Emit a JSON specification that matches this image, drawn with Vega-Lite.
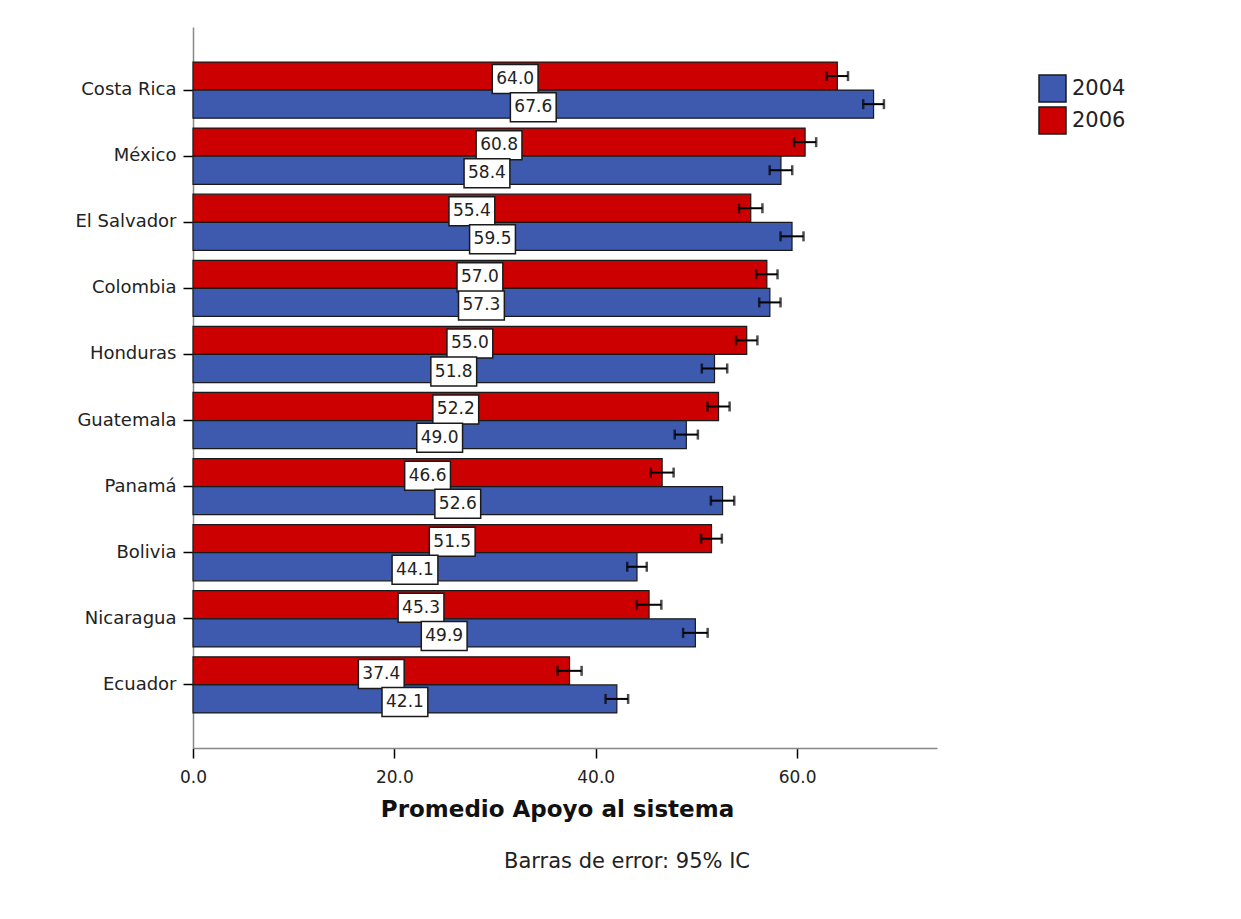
{
  "$schema": "https://vega.github.io/schema/vega-lite/v6.json",
  "autosize": "none",
  "width": 744,
  "height": 721,
  "padding": {"left": 193, "top": 27, "right": 304, "bottom": 171},
  "background": "white",
  "config": {
    "font": "DejaVu Sans",
    "view": {"stroke": null},
    "axis": {"labelFont": "DejaVu Sans", "titleFont": "DejaVu Sans", "labelColor": "#222", "titleColor": "#111"}
  },
  "title": {
    "text": "Barras de error: 95% IC",
    "orient": "bottom",
    "anchor": "middle",
    "fontSize": 21,
    "fontWeight": "normal",
    "color": "#222",
    "dx": 62,
    "offset": 30
  },
  "data": {
    "values": [
      {"country": "Costa Rica", "year": "2006", "value": 64.0, "lo": 62.94, "hi": 65.06},
      {"country": "Costa Rica", "year": "2004", "value": 67.6, "lo": 66.57, "hi": 68.63},
      {"country": "México", "year": "2006", "value": 60.8, "lo": 59.7, "hi": 61.9},
      {"country": "México", "year": "2004", "value": 58.4, "lo": 57.28, "hi": 59.52},
      {"country": "El Salvador", "year": "2006", "value": 55.4, "lo": 54.24, "hi": 56.56},
      {"country": "El Salvador", "year": "2004", "value": 59.5, "lo": 58.36, "hi": 60.64},
      {"country": "Colombia", "year": "2006", "value": 57.0, "lo": 55.94, "hi": 58.06},
      {"country": "Colombia", "year": "2004", "value": 57.3, "lo": 56.24, "hi": 58.36},
      {"country": "Honduras", "year": "2006", "value": 55.0, "lo": 53.94, "hi": 56.06},
      {"country": "Honduras", "year": "2004", "value": 51.8, "lo": 50.54, "hi": 53.06},
      {"country": "Guatemala", "year": "2006", "value": 52.2, "lo": 51.1, "hi": 53.3},
      {"country": "Guatemala", "year": "2004", "value": 49.0, "lo": 47.85, "hi": 50.15},
      {"country": "Panamá", "year": "2006", "value": 46.6, "lo": 45.46, "hi": 47.74},
      {"country": "Panamá", "year": "2004", "value": 52.6, "lo": 51.44, "hi": 53.76},
      {"country": "Bolivia", "year": "2006", "value": 51.5, "lo": 50.47, "hi": 52.53},
      {"country": "Bolivia", "year": "2004", "value": 44.1, "lo": 43.13, "hi": 45.07},
      {"country": "Nicaragua", "year": "2006", "value": 45.3, "lo": 44.08, "hi": 46.52},
      {"country": "Nicaragua", "year": "2004", "value": 49.9, "lo": 48.68, "hi": 51.12},
      {"country": "Ecuador", "year": "2006", "value": 37.4, "lo": 36.2, "hi": 38.6},
      {"country": "Ecuador", "year": "2004", "value": 42.1, "lo": 40.98, "hi": 43.22}
    ]
  },
  "transform": [{"calculate": "datum.value / 2", "as": "mid"}],
  "encoding": {
    "y": {
      "field": "country",
      "type": "nominal",
      "sort": null,
      "scale": {"paddingInner": 0.15, "paddingOuter": 0.53},
      "axis": {
        "title": null,
        "labelFontSize": 18,
        "labelPadding": 7,
        "tickSize": 10,
        "tickColor": "#000",
        "tickWidth": 1.5,
        "domainColor": "#888",
        "domainWidth": 1.5
      }
    },
    "yOffset": {
      "field": "year",
      "type": "nominal",
      "scale": {"domain": ["2006", "2004"], "paddingInner": 0, "paddingOuter": 0}
    }
  },
  "layer": [
    {
      "mark": {"type": "bar", "stroke": "#1a1a1a", "strokeWidth": 1.2},
      "encoding": {
        "x": {
          "field": "value",
          "type": "quantitative",
          "scale": {"domain": [0, 73.9], "nice": false, "zero": true},
          "axis": {
            "title": "Promedio Apoyo al sistema",
            "titleFontSize": 23,
            "titleFontWeight": "bold",
            "titlePadding": 13,
            "titleX": 364,
            "values": [0, 20, 40, 60],
            "format": ".1f",
            "labelFontSize": 17,
            "labelPadding": 11,
            "labelFlush": false,
            "tickSize": 10,
            "tickColor": "#000",
            "tickWidth": 1.5,
            "domainColor": "#888",
            "domainWidth": 1.5,
            "grid": false
          }
        },
        "color": {
          "field": "year",
          "type": "nominal",
          "scale": {"domain": ["2004", "2006"], "range": ["#3E5AAE", "#CC0000"]},
          "legend": {
            "title": null,
            "orient": "none",
            "legendX": 845,
            "legendY": 47,
            "symbolType": "square",
            "symbolSize": 729,
            "symbolStrokeColor": "#1a1a1a",
            "symbolStrokeWidth": 1.5,
            "labelFontSize": 21,
            "labelColor": "#222",
            "labelOffset": 5,
            "rowPadding": -1
          }
        }
      }
    },
    {
      "mark": {"type": "rule", "color": "#000", "strokeWidth": 2},
      "encoding": {
        "x": {"field": "lo", "type": "quantitative"},
        "x2": {"field": "hi"}
      }
    },
    {
      "mark": {"type": "tick", "color": "#000", "size": 10, "thickness": 2.5, "orient": "vertical"},
      "encoding": {"x": {"field": "lo", "type": "quantitative"}}
    },
    {
      "mark": {"type": "tick", "color": "#000", "size": 10, "thickness": 2.5, "orient": "vertical"},
      "encoding": {"x": {"field": "hi", "type": "quantitative"}}
    },
    {
      "mark": {
        "type": "point",
        "shape": "M-1.58,-0.79L1.58,-0.79L1.58,1.21L-1.58,1.21Z",
        "size": 841,
        "filled": false,
        "fill": "white",
        "fillOpacity": 1,
        "stroke": "#1a1a1a",
        "strokeWidth": 1.5,
        "opacity": 1
      },
      "encoding": {"x": {"field": "mid", "type": "quantitative"}}
    },
    {
      "mark": {"type": "text", "fontSize": 17, "color": "#222", "dy": 3, "align": "center", "baseline": "middle"},
      "encoding": {
        "x": {"field": "mid", "type": "quantitative"},
        "text": {"field": "value", "type": "quantitative", "format": ".1f"}
      }
    }
  ]
}
